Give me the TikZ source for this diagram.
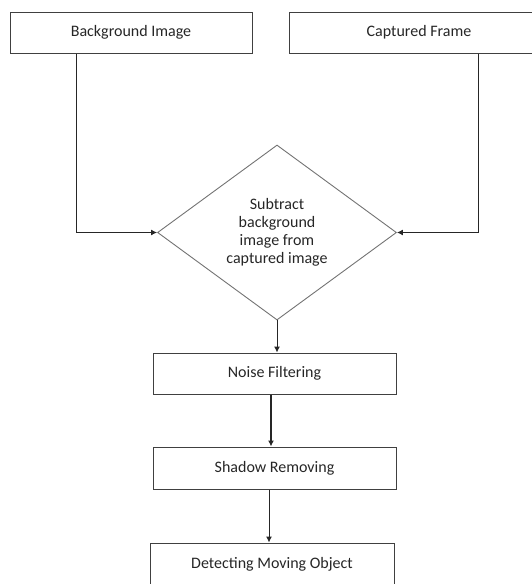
\documentclass[tikz,border=0pt]{standalone}
\usepackage{fontspec}
\setmainfont{Carlito}
\usetikzlibrary{shapes.geometric,arrows.meta}
\begin{document}
\begin{tikzpicture}[x=1pt,y=-1pt,
  box/.style={draw=black!75,line width=1pt,minimum height=41pt,inner sep=0pt,
    font=\fontsize{16}{18}\selectfont,text=black!85},
  dec/.style={diamond,draw=black!55,line width=0.9pt,minimum width=239pt,
    minimum height=175pt,aspect=1.36,inner sep=0pt,align=center,
    font=\fontsize{16}{18}\selectfont,text=black!85},
  arr/.style={draw=black!85,line width=1pt,-{Latex[length=6pt,width=6pt]}}]
\useasboundingbox (0,0) rectangle (531,584);
\node[box,minimum width=242pt] (bg) at (131,32.5) {Background Image};
\node[box,minimum width=260pt] (cf) at (419,32.5) {Captured Frame};
\node[dec] (dia) at (277,232.5) {Subtract\\background\\image from\\captured image};
\node[box,minimum width=243pt] (noise) at (274.5,373.5) {Noise Filtering};
\node[box,minimum width=243pt,minimum height=42pt] (shadow) at (274.5,468) {Shadow Removing};
\node[box,minimum width=244pt,minimum height=47pt,text height=11pt,text depth=8pt] (det) at (272,566.5) {Detecting Moving Object};
\coordinate (lt) at (76,233);
\coordinate (rt) at (478,233);
\coordinate (m1) at (271,0);
\coordinate (m2) at (269,0);
\draw[arr] (bg.south -| lt) |- (dia.west);
\draw[arr] (cf.south -| rt) |- (dia.east);
\draw[arr] (dia.south) -- (dia.south |- noise.north);
\draw[arr,line width=2pt] (noise.south -| m1) -- (shadow.north -| m1);
\draw[arr] (shadow.south -| m2) -- (det.north -| m2);
\end{tikzpicture}
\end{document}
